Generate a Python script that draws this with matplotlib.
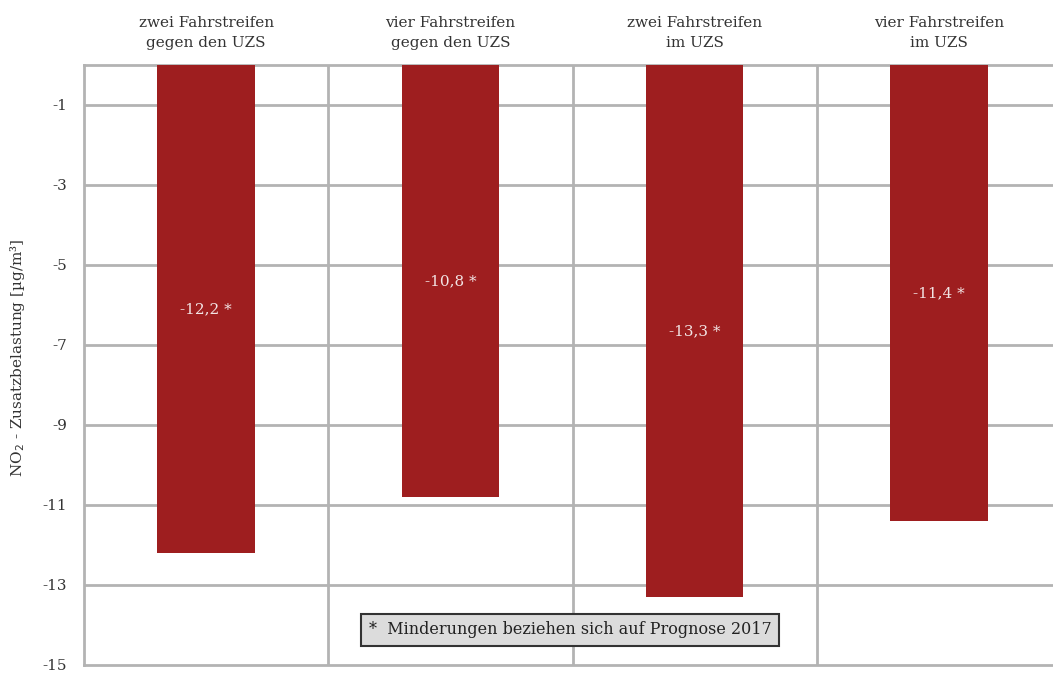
import matplotlib.pyplot as plt
from matplotlib.ticker import FixedLocator

categories = ["zwei Fahrstreifen\ngegen den UZS", "vier Fahrstreifen\ngegen den UZS",
              "zwei Fahrstreifen\nim UZS", "vier Fahrstreifen\nim UZS"]
values = [-12.2, -10.8, -13.3, -11.4]
bar_labels = ["-12,2 *", "-10,8 *", "-13,3 *", "-11,4 *"]
y_ticks = [-1, -3, -5, -7, -9, -11, -13, -15]
footnote = "*  Minderungen beziehen sich auf Prognose 2017"

plt.rcParams['font.family'] = ['DejaVu Serif']

W, H = 1053, 675
fig = plt.figure(figsize=(W / 100, H / 100), dpi=100)
left, right, top, bottom = 84, 1061, 65, 665
ax = fig.add_axes([left / W, 1 - bottom / H, (right - left) / W, (bottom - top) / H])

grid_c = "#b3b3b3"
bar_c = "#9e1e1f"
x = range(len(values))
ax.bar(x, values, width=0.4, color=bar_c, zorder=3)
ax.set_xlim(-0.5, len(values) - 0.5)
ax.set_ylim(-15, 0)

# category separators and horizontal grid at odd values
for xs in [0.5, 1.5, 2.5]:
    ax.axvline(xs, color=grid_c, lw=2, zorder=1)
for yt in y_ticks[:-1]:
    ax.axhline(yt, color=grid_c, lw=2, zorder=1)

for s in ax.spines.values():
    s.set_color(grid_c)
    s.set_linewidth(2)

ax.yaxis.set_major_locator(FixedLocator(y_ticks))
ax.set_yticklabels([str(v) for v in y_ticks], fontsize=11, color="#333333")
ax.tick_params(axis='y', length=0, pad=12)
ax.set_xticks(list(x))
ax.set_xticklabels(categories, fontsize=11, color="#333333", linespacing=1.5)
ax.xaxis.tick_top()
ax.tick_params(axis='x', length=0, pad=11)

for i, (v, lab) in enumerate(zip(values, bar_labels)):
    ax.text(i, v / 2, lab, ha='center', va='center', color="#f2e4e4", fontsize=11, zorder=4)

fig.text(18 / W, 1 - 358 / H, "NO$_2$ - Zusatzbelastung [µg/m³]", rotation=90,
         ha='center', va='center', fontsize=11, color="#333333")

fig.text(570 / W, 1 - 630 / H, footnote, ha='center', va='center', fontsize=11.5, color="#222222",
         bbox=dict(boxstyle='square,pad=0.45', facecolor="#dcdcdc", edgecolor="#333333", lw=1.5),
         zorder=10)

fig.savefig("out.png", dpi=100)
